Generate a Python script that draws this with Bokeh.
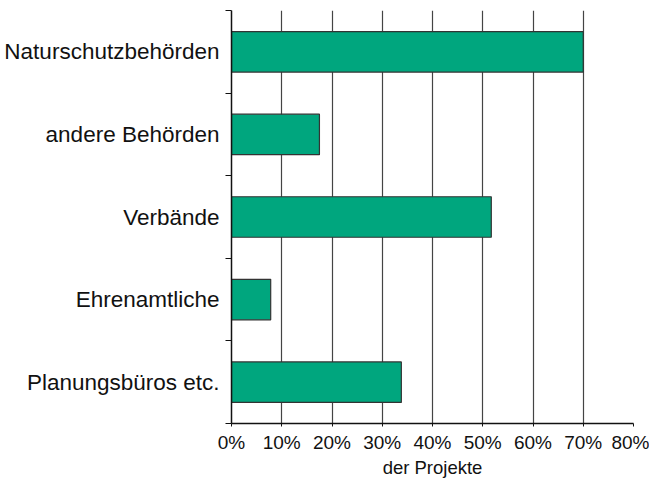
from bokeh.plotting import figure
from bokeh.models import FixedTicker, PrintfTickFormatter, Range1d
from bokeh.embed import file_html
from bokeh.resources import INLINE

categories = ["Planungsbüros etc.", "Ehrenamtliche", "Verbände", "andere Behörden", "Naturschutzbehörden"]
values = [33.8, 7.8, 51.7, 17.5, 70.0]
x_ticks = [0, 10, 20, 30, 40, 50, 60, 70, 80]
x_title = "der Projekte"

ypos = [i + 0.5 for i in range(len(categories))]

p = figure(width=649, height=480, output_backend="svg", toolbar_location=None,
           x_range=Range1d(0, 80), y_range=Range1d(0, len(categories)),
           min_border_left=231, min_border_right=16, min_border_top=10, min_border_bottom=57)
p.outline_line_color = None
p.background_fill_color = "white"

p.hbar(y=ypos, right=values, left=0, height=0.49, fill_color="#00a67e",
       line_color="#333333", line_width=1.2)

# x axis
p.xaxis.ticker = FixedTicker(ticks=x_ticks)
p.xaxis.formatter = PrintfTickFormatter(format="%d%%")
p.xaxis.axis_label = x_title
p.xaxis.axis_label_text_font = "Liberation Sans"
p.xaxis.axis_label_text_font_style = "normal"
p.xaxis.axis_label_text_font_size = "18.5px"
p.xaxis.axis_label_text_color = "#111111"
p.xaxis.axis_label_standoff = 1
p.xaxis.major_label_text_font = "Liberation Sans"
p.xaxis.major_label_text_font_size = "19px"
p.xaxis.major_label_text_color = "#111111"
p.xaxis.major_label_standoff = 5
p.xaxis.major_tick_out = 3
p.xaxis.major_tick_in = 0
p.xaxis.minor_tick_line_color = None
p.xaxis.axis_line_width = 1.5
p.xaxis.axis_line_color = "#111111"
p.xaxis.major_tick_line_color = "#111111"

# y axis: labels at centers, ticks at boundaries
p.yaxis.ticker = FixedTicker(ticks=ypos, minor_ticks=list(range(len(categories) + 1)))
p.yaxis.major_label_overrides = {y: c for y, c in zip(ypos, categories)}
p.yaxis.major_tick_line_color = None
p.yaxis.minor_tick_out = 6
p.yaxis.minor_tick_in = 0
p.yaxis.minor_tick_line_color = "#111111"
p.yaxis.minor_tick_line_width = 1
p.yaxis.axis_line_width = 1.5
p.yaxis.axis_line_color = "#111111"
p.yaxis.major_label_text_font = "Liberation Sans"
p.yaxis.major_label_text_font_size = "22.5px"
p.yaxis.major_label_text_color = "#111111"
p.yaxis.major_label_standoff = 6

# grid
p.ygrid.grid_line_color = None
p.xgrid.ticker = FixedTicker(ticks=x_ticks[1:])
p.xgrid.grid_line_color = "#444444"
p.xgrid.grid_line_width = 1.2

open("out.html", "w").write(file_html(p, INLINE))
